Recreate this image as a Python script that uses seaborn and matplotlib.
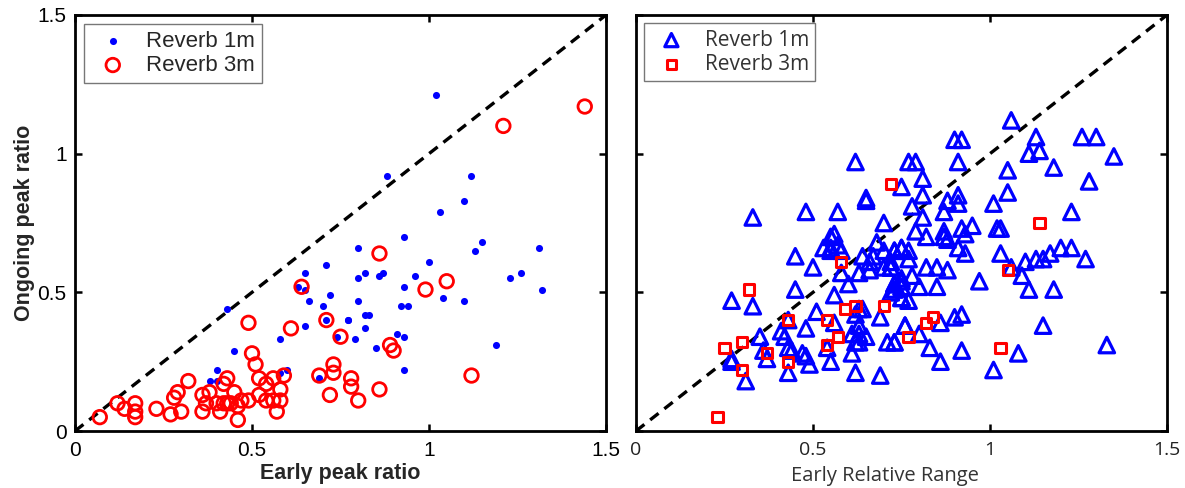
import matplotlib
matplotlib.use("Agg")
import matplotlib.pyplot as plt
import seaborn as sns
import numpy as np

# Left panel: early vs ongoing peak ratio
peak_1m_x = [1.02, 0.88, 1.12, 1.10, 1.03, 0.93, 0.80, 1.15, 1.13, 1.31, 1.00, 0.82, 0.80,
             0.86, 0.87, 0.96, 0.93, 1.26, 1.23, 1.32, 1.04, 1.10, 0.80, 0.92, 0.94, 0.77,
             0.82, 0.83, 0.82, 0.79, 0.91, 0.93, 0.85, 1.19, 0.93, 0.71, 0.65, 0.63, 0.65,
             0.66, 0.70, 0.72, 0.65, 0.71, 0.77, 0.74, 0.43, 0.45, 0.58, 0.60, 0.58, 0.40,
             0.40, 0.38, 0.69]
peak_1m_y = [1.21, 0.92, 0.92, 0.83, 0.79, 0.70, 0.66, 0.68, 0.65, 0.66, 0.61, 0.57, 0.55,
             0.56, 0.57, 0.56, 0.52, 0.57, 0.55, 0.51, 0.48, 0.47, 0.47, 0.45, 0.45, 0.40,
             0.42, 0.42, 0.37, 0.33, 0.35, 0.34, 0.30, 0.31, 0.22, 0.60, 0.57, 0.52, 0.51,
             0.47, 0.45, 0.49, 0.38, 0.40, 0.40, 0.34, 0.44, 0.29, 0.33, 0.22, 0.21, 0.22,
             0.18, 0.18, 0.19]
peak_3m_x = [1.21, 1.44, 0.86, 1.05, 0.99, 0.75, 0.89, 0.90, 0.78, 0.78, 0.86, 0.80, 1.12,
             0.64, 0.49, 0.61, 0.71, 0.50, 0.51, 0.73, 0.73, 0.69, 0.72, 0.32, 0.43, 0.42,
             0.52, 0.54, 0.56, 0.59, 0.58, 0.52, 0.54, 0.56, 0.58, 0.57, 0.49, 0.45, 0.47,
             0.46, 0.44, 0.42, 0.43, 0.40, 0.41, 0.38, 0.36, 0.37, 0.36, 0.46, 0.29, 0.28,
             0.27, 0.30, 0.23, 0.17, 0.17, 0.17, 0.14, 0.12, 0.07]
peak_3m_y = [1.10, 1.17, 0.64, 0.54, 0.51, 0.34, 0.31, 0.29, 0.19, 0.16, 0.15, 0.11, 0.20,
             0.52, 0.39, 0.37, 0.40, 0.28, 0.24, 0.24, 0.21, 0.20, 0.13, 0.18, 0.19, 0.17,
             0.19, 0.17, 0.19, 0.20, 0.15, 0.13, 0.11, 0.11, 0.11, 0.07, 0.11, 0.14, 0.11,
             0.09, 0.10, 0.10, 0.10, 0.10, 0.07, 0.14, 0.13, 0.10, 0.07, 0.04, 0.14, 0.12,
             0.06, 0.07, 0.08, 0.10, 0.07, 0.05, 0.08, 0.10, 0.05]

# Right panel: early relative range vs ongoing peak ratio
range_1m_x = [1.06, 0.90, 0.92, 1.13, 1.26, 1.30, 1.14, 1.11, 1.35, 0.79, 0.91, 1.05, 1.18,
              0.81, 0.75, 1.28, 0.81, 0.91, 0.88, 0.91, 1.05, 1.01, 0.78, 0.87, 1.23, 0.81,
              0.79, 0.82, 0.87, 0.87, 0.88, 0.92, 0.95, 0.93, 1.02, 1.03, 0.91, 0.93, 1.03,
              0.75, 0.73, 0.77, 0.72, 0.82, 0.85, 0.88, 0.78, 0.75, 0.73, 0.80, 0.85, 0.73,
              0.75, 0.77, 0.97, 1.06, 1.10, 1.13, 1.15, 1.17, 1.20, 1.23, 1.27, 1.09, 1.11,
              1.18, 0.90, 0.92, 0.86, 0.76, 0.80, 0.73, 0.83, 0.92, 0.86, 1.01, 1.08, 1.15,
              1.33, 0.62, 0.65, 0.77, 0.33, 0.48, 0.57, 0.65, 0.70, 0.56, 0.55, 0.53, 0.55,
              0.57, 0.58, 0.55, 0.45, 0.50, 0.68, 0.70, 0.73, 0.75, 0.77, 0.64, 0.67, 0.66,
              0.72, 0.72, 0.70, 0.63, 0.66, 0.58, 0.60, 0.73, 0.75, 0.75, 0.72, 0.75, 0.45,
              0.56, 0.27, 0.33, 0.63, 0.64, 0.51, 0.62, 0.69, 0.43, 0.56, 0.63, 0.76, 0.48,
              0.41, 0.35, 0.61, 0.63, 0.65, 0.42, 0.62, 0.63, 0.71, 0.73, 0.43, 0.54, 0.36,
              0.61, 0.47, 0.48, 0.37, 0.44, 0.27, 0.27, 0.49, 0.55, 0.62, 0.69, 0.43, 0.31]
range_1m_y = [1.12, 1.05, 1.05, 1.06, 1.06, 1.06, 1.01, 1.00, 0.99, 0.97, 0.97, 0.94, 0.95,
              0.91, 0.88, 0.90, 0.85, 0.85, 0.83, 0.82, 0.86, 0.82, 0.81, 0.79, 0.79, 0.77,
              0.72, 0.70, 0.72, 0.70, 0.69, 0.73, 0.74, 0.71, 0.73, 0.73, 0.66, 0.64, 0.64,
              0.66, 0.65, 0.62, 0.59, 0.59, 0.59, 0.58, 0.56, 0.54, 0.53, 0.52, 0.52, 0.51,
              0.48, 0.47, 0.54, 0.59, 0.61, 0.62, 0.62, 0.64, 0.66, 0.66, 0.62, 0.56, 0.51,
              0.51, 0.41, 0.42, 0.39, 0.38, 0.35, 0.32, 0.30, 0.29, 0.25, 0.22, 0.28, 0.38,
              0.31, 0.97, 0.84, 0.97, 0.77, 0.79, 0.79, 0.83, 0.75, 0.71, 0.70, 0.66, 0.66,
              0.67, 0.65, 0.65, 0.63, 0.59, 0.68, 0.65, 0.65, 0.66, 0.65, 0.63, 0.63, 0.61,
              0.61, 0.59, 0.59, 0.57, 0.58, 0.57, 0.53, 0.53, 0.55, 0.52, 0.50, 0.48, 0.51,
              0.49, 0.47, 0.45, 0.44, 0.44, 0.43, 0.42, 0.41, 0.40, 0.39, 0.38, 0.38, 0.37,
              0.36, 0.34, 0.35, 0.35, 0.34, 0.34, 0.32, 0.32, 0.32, 0.32, 0.30, 0.30, 0.29,
              0.28, 0.28, 0.27, 0.26, 0.29, 0.26, 0.25, 0.24, 0.25, 0.21, 0.20, 0.21, 0.18]
range_3m_x = [0.72, 1.14, 1.05, 0.84, 0.82, 0.77, 1.03, 0.58, 0.32, 0.59, 0.62, 0.70, 0.43,
              0.54, 0.57, 0.54, 0.25, 0.30, 0.37, 0.43, 0.30, 0.23]
range_3m_y = [0.89, 0.75, 0.58, 0.41, 0.39, 0.34, 0.30, 0.61, 0.51, 0.44, 0.45, 0.45, 0.40,
              0.40, 0.34, 0.31, 0.30, 0.32, 0.28, 0.25, 0.22, 0.05]

ticks = [0, 0.5, 1, 1.5]
tick_labels = ["0", "0.5", "1", "1.5"]
series_labels = ["Reverb 1m", "Reverb 3m"]

sns.set_theme(style="white")
plt.rcParams["font.family"] = ["Liberation Sans", "DejaVu Sans"]
humanist = ["Open Sans", "DejaVu Sans"]

fig = plt.figure(figsize=(11.85, 4.88), dpi=100)
ax_l = fig.add_axes([0.0633, 0.1168, 0.4481, 0.8525])
ax_r = fig.add_axes([0.5367, 0.1168, 0.4481, 0.8525])

for ax in (ax_l, ax_r):
    ax.plot([0, 1.5], [0, 1.5], ls=(0, (3.2, 2.2)), color="black", lw=2.4, zorder=1)

# left panel markers
sns.scatterplot(x=peak_1m_x, y=peak_1m_y, ax=ax_l, marker="o", s=26, color="#0000ff",
                edgecolor="#0000ff", linewidth=0, label=series_labels[0], zorder=3)
sns.scatterplot(x=peak_3m_x, y=peak_3m_y, ax=ax_l, marker="o", s=95, facecolor="none",
                edgecolor="#ff0000", linewidth=2.0, label=series_labels[1], zorder=3)

# right panel markers
sns.scatterplot(x=range_1m_x, y=range_1m_y, ax=ax_r, marker="^", s=125, facecolor="none",
                edgecolor="#0000ff", linewidth=2.3, label=series_labels[0], zorder=3)
sns.scatterplot(x=range_3m_x, y=range_3m_y, ax=ax_r, marker="s", s=55, facecolor="none",
                edgecolor="#ff0000", linewidth=2.2, label=series_labels[1], zorder=4)

for ax in (ax_l, ax_r):
    ax.set_xlim(0, 1.5)
    ax.set_ylim(0, 1.5)
    ax.set_xticks(ticks)
    ax.set_yticks(ticks)
    for sp in ax.spines.values():
        sp.set_visible(True)
        sp.set_color("black")
        sp.set_linewidth(2.0)
    ax.tick_params(direction="in", length=5, width=1.8, top=True, right=True,
                   bottom=True, left=True, colors="black")

ax_l.set_xticklabels(tick_labels, fontsize=15)
ax_l.set_yticklabels(tick_labels, fontsize=15)
ax_l.tick_params(axis="x", pad=7)
ax_l.tick_params(axis="y", pad=6)
ax_r.set_xticklabels(tick_labels, fontsize=14, family=humanist, color="#222222")
ax_r.tick_params(axis="x", pad=7)
ax_r.set_yticklabels([])

ax_l.set_xlabel("Early peak ratio", fontsize=15.5, fontweight="bold", labelpad=2)
ax_l.set_ylabel("Ongoing peak ratio", fontsize=15.5, fontweight="bold", labelpad=2)
ax_r.set_xlabel("Early Relative Range", fontsize=14.5, color="#333333", family=humanist)
ax_r.xaxis.set_label_coords(0.469, -0.085)

leg_l = ax_l.legend(loc="upper left", fontsize=16, frameon=True, fancybox=False,
                    edgecolor="#555555", borderaxespad=0.4, handletextpad=0.5,
                    borderpad=0.3, labelspacing=0.15, markerscale=1.0)
leg_l.get_frame().set_linewidth(1.0)

leg_r = ax_r.legend(loc="upper left", frameon=True, fancybox=False,
                    edgecolor="#555555", borderaxespad=0.4, handletextpad=0.6,
                    borderpad=0.3, labelspacing=0.15, markerscale=0.85,
                    prop={"family": humanist, "size": 15})
leg_r.get_frame().set_linewidth(1.0)
for t in leg_r.get_texts():
    t.set_color("#333333")

fig.savefig("out.png", dpi=100, facecolor="white")
